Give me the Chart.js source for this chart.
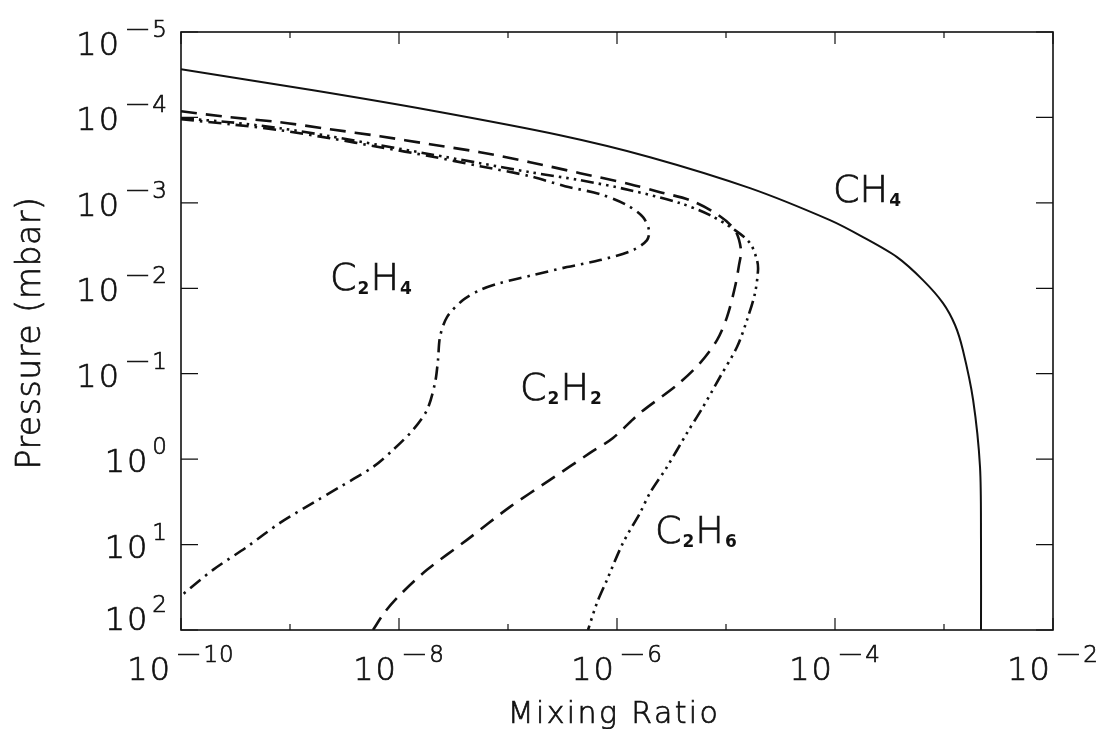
<!DOCTYPE html>
<html>
<head>
<meta charset="utf-8">
<script src="https://cdn.jsdelivr.net/npm/chart.js@4.4.1/dist/chart.umd.min.js"></script>
<style>
html,body{margin:0;padding:0;background:#fff;}
#wrap{width:1102px;height:729px;position:relative;}
</style>
</head>
<body>
<div id="wrap"><canvas id="c" width="1102" height="729"></canvas></div>
<script>
// ---- tick labels / axis titles ----
const xExponents = [-10, -9, -8, -7, -6, -5, -4, -3, -2];
const xLabelExponents = [-10, -8, -6, -4, -2];
const yExponents = [-5, -4, -3, -2, -1, 0, 1, 2];
const xTitle = 'Mixing Ratio';
const yTitle = 'Pressure (mbar)';

// ---- series: mixing ratio vs pressure (mbar) ----
const ch4Ratio    = [1.0e-10, 1.63e-9, 1.924e-8, 3.0e-7, 2.01e-6, 1.66e-5, 8.99e-5, 1.807e-4, 3.71e-4, 6.41e-4, 9.79e-4, 1.262e-3, 1.49e-3, 1.85e-3, 2.14e-3, 2.185e-3, 2.185e-3];
const ch4Pressure = [2.73e-5, 4.81e-5, 8.24e-5, 1.615e-4, 2.92e-4, 6.73e-4, 1.594e-3, 2.518e-3, 4.32e-3, 8.02e-3, 1.49e-2, 2.69e-2, 5.28e-2, 0.203, 1.234, 8.81, 100];

const c2h2Ratio    = [1.0e-10, 2.815e-10, 8.09e-10, 2.328e-9, 6.69e-9, 1.924e-8, 5.536e-8, 1.592e-7, 4.577e-7, 1.316e-6, 2.48e-6, 4.673e-6, 8.27e-6, 1.209e-5, 1.373e-5, 1.316e-5, 1.209e-5, 1.021e-5, 8.27e-6, 5.774e-6, 3.552e-6, 1.626e-6, 9.19e-7, 5.654e-7, 2.428e-7, 1.043e-7, 4.206e-8, 1.807e-8, 1.021e-8, 7.44e-9, 5.775e-9];
const c2h2Pressure = [8.46e-5, 9.95e-5, 1.138e-4, 1.374e-4, 1.66e-4, 2.058e-4, 2.553e-4, 3.342e-4, 4.494e-4, 6.044e-4, 7.496e-4, 9.3e-4, 1.356e-3, 2.086e-3, 3.574e-3, 5.354e-3, 9.68e-3, 2.172e-2, 4.035e-2, 7.497e-2, 0.1356, 0.2882, 0.5649, 0.8463, 1.751, 3.623, 8.81, 19.77, 38.75, 61.25, 100];

const c2h4Ratio    = [1.0e-10, 2.815e-10, 8.09e-10, 2.328e-9, 6.69e-9, 1.924e-8, 5.536e-8, 1.592e-7, 3.334e-7, 6.982e-7, 1.235e-6, 1.732e-6, 1.966e-6, 1.885e-6, 1.403e-6, 6.982e-7, 3.478e-7, 1.696e-7, 8.45e-8, 5.536e-8, 3.865e-8, 2.757e-8, 2.377e-8, 2.279e-8, 2.139e-8, 1.807e-8, 1.344e-8, 8.81e-9, 5.775e-9, 2.875e-9, 1.626e-9, 8.09e-10, 4.033e-10, 1.966e-10, 1.0e-10];
const c2h4Pressure = [1.05e-4, 1.201e-4, 1.412e-4, 1.751e-4, 2.231e-4, 2.843e-4, 3.722e-4, 4.872e-4, 6.378e-4, 7.91e-4, 1.064e-3, 1.47e-3, 2.086e-3, 2.731e-3, 3.574e-3, 4.68e-3, 5.649e-3, 7.01e-3, 8.69e-3, 1.05e-2, 1.374e-2, 2.172e-2, 3.722e-2, 6.917e-2, 0.1285, 0.2658, 0.4554, 0.7808, 1.234, 2.114, 3.253, 5.575, 10.64, 19.77, 39.81];

const c2h6Ratio    = [1.0e-10, 2.815e-10, 8.09e-10, 2.328e-9, 6.69e-9, 1.924e-8, 5.536e-8, 1.592e-7, 4.577e-7, 1.316e-6, 3.784e-6, 7.134e-6, 1.209e-5, 1.661e-5, 1.925e-5, 1.967e-5, 1.846e-5, 1.558e-5, 1.261e-5, 8.81e-6, 6.152e-6, 4.387e-6, 2.875e-6, 2.008e-6, 1.626e-6, 1.135e-6, 8.096e-7, 6.554e-7, 5.419e-7];
const c2h6Pressure = [1.022e-4, 1.138e-4, 1.337e-4, 1.66e-4, 2.114e-4, 2.694e-4, 3.433e-4, 4.375e-4, 5.426e-4, 7.103e-4, 1.008e-3, 1.393e-3, 2.086e-3, 2.96e-3, 4.68e-3, 6.125e-3, 1.138e-2, 2.354e-2, 4.872e-2, 0.1093, 0.2452, 0.4939, 1.234, 2.484, 4.258, 9.55, 25.88, 48.07, 100];

// ---- in-plot species labels: [main, sub, main, sub] and anchor (ratio, pressure) ----
const labelParts = [['C','','H','4'], ['C','2','H','4'], ['C','2','H','2'], ['C','2','H','6']];
const labelRatio = [9.6e-5, 2.33e-9, 1.29e-7, 2.23e-6];
const labelPressure = [9.9e-4, 1.06e-2, 0.205, 9.66];

function pts(xs, ys) { return xs.map((v, i) => ({x: v, y: ys[i]})); }

const FONT = '"DejaVu Sans", "Liberation Sans", sans-serif';
const W = '300 ';

function txt(ctx, s, x, y) {
  ctx.fillText(s, x, y);
  ctx.strokeText(s, x, y);
}

function drawPow(ctx, exp, x, baseline, align) {
  const supDigits = String(Math.abs(exp));
  ctx.save();
  ctx.fillStyle = '#111';
  ctx.strokeStyle = '#111';
  ctx.lineWidth = 0.7;
  ctx.textBaseline = 'alphabetic';
  ctx.textAlign = 'left';
  ctx.font = W + '32px ' + FONT;
  try { ctx.letterSpacing = '2px'; } catch (e) {}
  const w10 = ctx.measureText('10').width;
  ctx.font = W + '23px ' + FONT;
  try { ctx.letterSpacing = '1px'; } catch (e) {}
  const wd = ctx.measureText(supDigits).width;
  const minusScale = 1.4;
  const wm = exp < 0 ? ctx.measureText('\u2212').width * minusScale : 0;
  const gap = 3;
  const total = w10 + gap + wm + wd;
  let x0 = align === 'right' ? x - total : x - total / 2;
  ctx.font = W + '32px ' + FONT;
  try { ctx.letterSpacing = '2px'; } catch (e) {}
  txt(ctx, '10', x0, baseline);
  let xs = x0 + w10 + gap;
  const sb = baseline - 18;
  ctx.font = W + '23px ' + FONT;
  try { ctx.letterSpacing = '0px'; } catch (e) {}
  if (exp < 0) {
    ctx.save();
    ctx.translate(xs, sb);
    ctx.scale(minusScale, 1);
    txt(ctx, '\u2212', 0, 0);
    ctx.restore();
    xs += wm;
  }
  try { ctx.letterSpacing = '1px'; } catch (e) {}
  txt(ctx, supDigits, xs, sb);
  ctx.restore();
}

const decor = {
  id: 'decor',
  beforeDraw(chart) {
    const ctx = chart.ctx;
    ctx.save();
    ctx.fillStyle = '#fff';
    ctx.fillRect(0, 0, chart.width, chart.height);
    ctx.restore();
  },
  afterDraw(chart) {
    const ctx = chart.ctx;
    const a = chart.chartArea;
    const xs = chart.scales.x, ys = chart.scales.y;
    ctx.save();
    ctx.strokeStyle = '#111';
    ctx.lineWidth = 1.6;
    ctx.strokeRect(a.left, a.top, a.right - a.left, a.bottom - a.top);
    ctx.lineWidth = 1.2;
    xExponents.forEach(e => {
      const px = xs.getPixelForValue(Math.pow(10, e));
      const len = xLabelExponents.includes(e) ? 12 : 6;
      ctx.beginPath();
      ctx.moveTo(px, a.bottom); ctx.lineTo(px, a.bottom - len);
      ctx.moveTo(px, a.top); ctx.lineTo(px, a.top + len);
      ctx.stroke();
    });
    yExponents.forEach(e => {
      const py = ys.getPixelForValue(Math.pow(10, e));
      ctx.beginPath();
      ctx.moveTo(a.left, py); ctx.lineTo(a.left + 17, py);
      ctx.moveTo(a.right, py); ctx.lineTo(a.right - 17, py);
      ctx.stroke();
    });
    ctx.restore();
    xLabelExponents.forEach(e => {
      const px = xs.getPixelForValue(Math.pow(10, e));
      drawPow(ctx, e, px, a.bottom + 50, 'center');
    });
    yExponents.forEach((e, i) => {
      const py = ys.getPixelForValue(Math.pow(10, e));
      let bl = py + 13;
      if (i === 0) bl = py + 23;
      if (i === yExponents.length - 1) bl = py;
      drawPow(ctx, e, a.left - 13, bl, 'right');
    });
    ctx.save();
    ctx.fillStyle = '#111';
    ctx.strokeStyle = '#111';
    ctx.lineWidth = 0.7;
    ctx.font = W + '30px ' + FONT;
    try { ctx.letterSpacing = '2.4px'; } catch (e) {}
    ctx.textAlign = 'center';
    ctx.textBaseline = 'alphabetic';
    txt(ctx, xTitle, (a.left + a.right) / 2 - 3, 723);
    ctx.restore();
    ctx.save();
    ctx.fillStyle = '#111';
    ctx.strokeStyle = '#111';
    ctx.lineWidth = 0.7;
    ctx.font = W + '33px ' + FONT;
    try { ctx.letterSpacing = '0.6px'; } catch (e) {}
    ctx.textAlign = 'center';
    ctx.textBaseline = 'alphabetic';
    ctx.translate(40, 333);
    ctx.rotate(-Math.PI / 2);
    txt(ctx, yTitle, 0, 0);
    ctx.restore();
    labelParts.forEach((parts, i) => {
      let x = xs.getPixelForValue(labelRatio[i]);
      const y = ys.getPixelForValue(labelPressure[i]);
      ctx.save();
      ctx.fillStyle = '#111';
      ctx.strokeStyle = '#111';
      ctx.lineWidth = 0.7;
      ctx.textAlign = 'left';
      ctx.textBaseline = 'alphabetic';
      parts.forEach((p, k) => {
        if (!p) return;
        if (k % 2 === 0) {
          ctx.font = W + '38px ' + FONT;
          txt(ctx, p, x, y);
          x += ctx.measureText(p).width;
        } else {
          ctx.font = 'bold 17px ' + FONT;
          ctx.fillText(p, x + 1, y + 4);
          x += ctx.measureText(p).width + 2;
        }
      });
      ctx.restore();
    });
  }
};

const common = { showLine: true, pointRadius: 0, pointHoverRadius: 0, borderColor: '#111', fill: false, tension: 0.3 };

new Chart(document.getElementById('c'), {
  type: 'scatter',
  data: {
    datasets: [
      Object.assign({}, common, { label: 'CH4', data: pts(ch4Ratio, ch4Pressure), borderWidth: 2 }),
      Object.assign({}, common, { label: 'C2H2', data: pts(c2h2Ratio, c2h2Pressure), borderWidth: 2.6, borderDash: [16, 9] }),
      Object.assign({}, common, { label: 'C2H4', data: pts(c2h4Ratio, c2h4Pressure), borderWidth: 2.6, borderDash: [13, 6, 2.5, 6] }),
      Object.assign({}, common, { label: 'C2H6', data: pts(c2h6Ratio, c2h6Pressure), borderWidth: 2.6, borderDash: [13, 5, 2.5, 5, 2.5, 5, 2.5, 5] })
    ]
  },
  options: {
    responsive: false,
    animation: false,
    devicePixelRatio: 1,
    layout: { padding: { left: 181, right: 49, top: 32, bottom: 99 } },
    plugins: { legend: { display: false }, tooltip: { enabled: false } },
    events: [],
    scales: {
      x: { type: 'logarithmic', min: 1e-10, max: 1e-2, display: false },
      y: { type: 'logarithmic', min: 1e-5, max: 100, reverse: true, display: false }
    }
  },
  plugins: [decor]
});
</script>
</body>
</html>
